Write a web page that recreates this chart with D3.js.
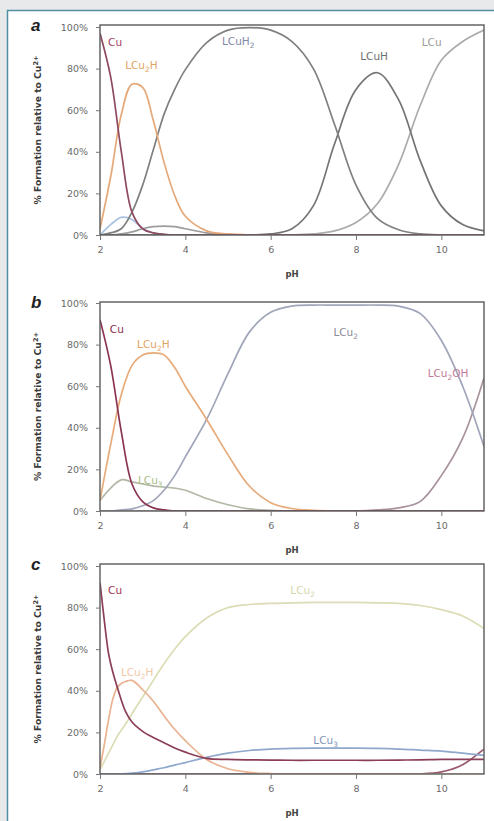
<!DOCTYPE html>
<html>
<head>
<meta charset="utf-8">
<script src="https://cdn.jsdelivr.net/npm/d3@7"></script>
<style>
  body { margin: 0; background: #e8e9eb; }
  svg { display: block; }
</style>
</head>
<body>
<div id="chart"></div>
<script>
var chartWidth = 494;
var chartHeight = 821;

// pH grids
var phAB = [2, 2.25, 2.5, 2.75, 3, 3.25, 3.5, 3.75, 4, 4.5, 5, 5.5, 6, 6.5, 7, 7.5, 8, 8.5, 9, 9.5, 10, 10.5, 11];
var phC = [2, 2.1, 2.2, 2.3, 2.4, 2.5, 2.6, 2.75, 3, 3.25, 3.5, 3.75, 4, 4.5, 5, 5.5, 6, 6.5, 7, 7.5, 8, 8.5, 9, 9.5, 10, 10.5, 11];

var xTicks = [2, 4, 6, 8, 10];
var yTicks = [0, 20, 40, 60, 80, 100];

// Panel a (% formation)
var aCu     = [97, 76, 40, 11, 3, 1, 0.3, 0, 0, 0, 0, 0, 0, 0, 0, 0, 0, 0, 0, 0, 0, 0, 0];
var aLCu2H  = [3, 28, 58, 72.5, 71, 55, 35, 19, 9, 2, 0.5, 0, 0, 0, 0, 0, 0, 0, 0, 0, 0, 0, 0];
var aLCuH2  = [0, 1, 3, 11, 24, 41, 58, 70, 79.5, 92.5, 98.5, 99.7, 98.5, 93, 80, 53, 24, 8, 2.5, 0.5, 0, 0, 0];
var aLCuH   = [0, 0, 0, 0, 0, 0, 0, 0, 0, 0, 0, 0.1, 0.5, 3, 14, 44, 70, 78, 65, 36, 14, 5, 2];
var aLCu    = [0, 0, 0, 0, 0, 0, 0, 0, 0, 0, 0, 0, 0, 0, 0.5, 2, 6, 15, 34, 62, 84, 93, 98.5];
var aMinor1 = [0, 5, 8.5, 7.5, 3, 1, 0.3, 0, 0, 0, 0, 0, 0, 0, 0, 0, 0, 0, 0, 0, 0, 0, 0];
var aMinor2 = [0, 0, 0.5, 1.5, 3, 4, 4.3, 4, 3, 1, 0.2, 0, 0, 0, 0, 0, 0, 0, 0, 0, 0, 0, 0];

// Panel b
var bCu     = [92, 70, 38, 13, 4.5, 1.5, 0.5, 0, 0, 0, 0, 0, 0, 0, 0, 0, 0, 0, 0, 0, 0, 0, 0];
var bLCu2H  = [5, 32, 56, 70, 75, 76, 75, 69, 60, 44, 27, 12, 4, 1.2, 0.3, 0, 0, 0, 0, 0, 0, 0, 0];
var bLCu2   = [0, 0, 0.5, 1, 2.5, 5, 10, 17, 26, 44, 66, 86, 95.5, 98.5, 99, 99, 99, 99, 98.5, 95, 82, 60, 31];
var bLCu2OH = [0, 0, 0, 0, 0, 0, 0, 0, 0, 0, 0, 0, 0, 0, 0, 0, 0, 0.5, 1.5, 4.5, 17, 35, 64];
var bLCu3   = [5, 11, 15, 14, 13, 12, 11.5, 11, 10, 6, 3, 1, 0.3, 0, 0, 0, 0, 0, 0, 0, 0, 0, 0];

// Panel c
var cCu     = [92, 74, 58, 49, 42, 35.5, 30, 25, 20.5, 17.5, 15, 12.5, 10.5, 7.5, 7, 6.8, 6.7, 6.6, 6.6, 6.6, 6.6, 6.6, 6.7, 6.8, 7, 7, 7];
var cLCu2H  = [3, 14, 26, 36, 41.5, 43.5, 44.5, 45, 40.5, 35, 28, 21.5, 16, 7, 2.5, 0.8, 0.2, 0, 0, 0, 0, 0, 0, 0, 0, 0, 0];
var cLCu2   = [2, 6, 10, 14, 18, 21, 24, 29, 37, 45, 53, 60, 66, 75, 80, 81.5, 82, 82.3, 82.5, 82.5, 82.5, 82.3, 82, 81, 79, 76, 70];
var cLCu3   = [0, 0, 0, 0, 0, 0.1, 0.2, 0.4, 1, 2, 3, 4.3, 5.5, 8, 10, 11.3, 12, 12.3, 12.4, 12.4, 12.4, 12.3, 12, 11.5, 11, 10, 9];
var cLCu2OH = [0, 0, 0, 0, 0, 0, 0, 0, 0, 0, 0, 0, 0, 0, 0, 0, 0, 0, 0, 0, 0, 0, 0, 0, 1, 4.5, 12];

// Layout of the three panels
var plotLeft = 100;
var plotRight = 484;
var panels = [
  {
    letter: 'a', frameTop: 25, top: 27, bottom: 235, ph: phAB,
    series: [
      {v: aMinor2, color: '#9c9c9c'},
      {v: aMinor1, color: '#a9c2e2'},
      {v: aLCu, color: '#ababab'},
      {v: aLCuH, color: '#747474'},
      {v: aLCuH2, color: '#808080'},
      {v: aLCu2H, color: '#e5a878'},
      {v: aCu, color: '#8e4a60'}
    ],
    labels: [
      {t: 'Cu', ph: 2.19, p: 91, color: '#a3405f'},
      {t: 'LCu_2H', ph: 2.59, p: 80, color: '#e0a466'},
      {t: 'LCuH_2', ph: 4.86, p: 91.3, color: '#7f88a6'},
      {t: 'LCuH', ph: 8.1, p: 84, color: '#6f6f6f'},
      {t: 'LCu', ph: 9.54, p: 91, color: '#9c9c9c'}
    ]
  },
  {
    letter: 'b', frameTop: 302, top: 303, bottom: 511, ph: phAB,
    series: [
      {v: bLCu3, color: '#b3b8a6'},
      {v: bLCu2OH, color: '#a8929e'},
      {v: bLCu2, color: '#a0a5b9'},
      {v: bLCu2H, color: '#e7ab7a'},
      {v: bCu, color: '#8b3553'}
    ],
    labels: [
      {t: 'Cu', ph: 2.23, p: 85.6, color: '#8a2c48'},
      {t: 'LCu_2H', ph: 2.87, p: 78.4, color: '#e2a262'},
      {t: 'LCu_2', ph: 7.47, p: 84, color: '#8c8c98'},
      {t: 'LCu_3', ph: 2.89, p: 13, color: '#a9bd8a'},
      {t: 'LCu_2OH', ph: 9.68, p: 64.4, color: '#c07a98'}
    ]
  },
  {
    letter: 'c', frameTop: 564, top: 566, bottom: 774, ph: phC,
    series: [
      {v: cLCu2OH, color: '#9a5a72'},
      {v: cLCu3, color: '#8fa8cc'},
      {v: cLCu2, color: '#dcdcb6'},
      {v: cLCu2H, color: '#eab290'},
      {v: cCu, color: '#8c3e58'}
    ],
    labels: [
      {t: 'Cu', ph: 2.19, p: 86.5, color: '#a03352'},
      {t: 'LCu_2H', ph: 2.49, p: 47, color: '#f0c8a8'},
      {t: 'LCu_2', ph: 6.46, p: 86.5, color: '#d6d6ae'},
      {t: 'LCu_3', ph: 7.0, p: 14.4, color: '#8494b8'}
    ]
  }
];

// Create SVG Element
var svg = d3.select('#chart')
    .append('svg')
    .attr('width', chartWidth)
    .attr('height', chartHeight);

// White card with border
svg.append('rect')
    .attr('x', 7.5)
    .attr('y', 10.5)
    .attr('width', chartWidth)
    .attr('height', chartHeight)
    .attr('fill', '#ffffff')
    .attr('stroke', '#4f8ea3')
    .attr('stroke-width', 1.5);

var scaleX = d3.scaleLinear()
    .domain([2, 11])
    .range([plotLeft, plotRight]);

// label text with _n meaning subscript n
function addLabel(sel, txt) {
  var parts = txt.split(/_(\d)/);
  parts.forEach(function(part, i) {
    if (part === '') return;
    var ts = sel.append('tspan').text(part);
    if (i % 2 === 1) {
      ts.attr('font-size', '0.7em').attr('dy', 3);
    } else if (i > 0) {
      ts.attr('dy', -3);
    }
  });
}

panels.forEach(function(panel, pi) {
  var scaleY = d3.scaleLinear()
      .domain([0, 100])
      .range([panel.bottom, panel.top]);

  var g = svg.append('g');

  g.append('clipPath')
      .attr('id', 'clip' + pi)
      .append('rect')
      .attr('x', plotLeft)
      .attr('y', panel.frameTop)
      .attr('width', plotRight - plotLeft)
      .attr('height', panel.bottom - panel.frameTop);

  // Lines
  var line = d3.line()
      .x(function(d) { return scaleX(d[0]); })
      .y(function(d) { return scaleY(d[1]); })
      .curve(d3.curveCatmullRom.alpha(0.5));

  g.append('g')
      .attr('clip-path', 'url(#clip' + pi + ')')
      .selectAll('path')
      .data(panel.series)
      .enter()
      .append('path')
      .attr('d', function(s) {
        return line(panel.ph.map(function(p, i) { return [p, s.v[i]]; }));
      })
      .attr('fill', 'none')
      .attr('stroke', function(s) { return s.color; })
      .attr('stroke-width', 1.7);

  // Frame
  g.append('rect')
      .attr('x', plotLeft)
      .attr('y', panel.frameTop)
      .attr('width', plotRight - plotLeft)
      .attr('height', panel.bottom - panel.frameTop)
      .attr('fill', 'none')
      .attr('stroke', '#5a5a5a')
      .attr('stroke-width', 1.4);

  // Axes
  var xAxis = g.append('g')
      .attr('transform', 'translate(0,' + panel.bottom + ')')
      .call(d3.axisBottom(scaleX).tickValues(xTicks).tickSize(5).tickPadding(6));
  var yAxis = g.append('g')
      .attr('transform', 'translate(' + plotLeft + ',0)')
      .call(d3.axisLeft(scaleY).tickValues(yTicks).tickSize(4).tickPadding(8)
        .tickFormat(function(d) { return d + '%'; }));

  [xAxis, yAxis].forEach(function(ax) {
    ax.select('.domain').remove();
    ax.selectAll('line').attr('stroke', '#777');
    ax.selectAll('text')
        .attr('fill', '#6a6a6a')
        .attr('font-family', 'DejaVu Sans')
        .attr('font-size', 9.5);
  });

  // Axis titles
  g.append('text')
      .attr('x', (plotLeft + plotRight) / 2)
      .attr('y', panel.bottom + 42)
      .attr('text-anchor', 'middle')
      .attr('font-family', 'DejaVu Sans')
      .attr('font-weight', 'bold')
      .attr('font-size', 8.5)
      .attr('fill', '#444')
      .text('pH');

  var yt = g.append('text')
      .attr('transform', 'translate(41,' + (panel.frameTop + panel.bottom) / 2 + ') rotate(-90)')
      .attr('text-anchor', 'middle')
      .attr('font-family', 'DejaVu Sans')
      .attr('font-weight', 'bold')
      .attr('font-size', 9.2)
      .attr('fill', '#3a3a3a');
  yt.append('tspan').text('% Formation relative to Cu');
  yt.append('tspan').attr('dy', -3).attr('font-size', 6.5).text('2+');

  // Panel letter
  g.append('text')
      .attr('x', 31)
      .attr('y', panel.frameTop + 6)
      .attr('font-family', 'Liberation Sans')
      .attr('font-weight', 'bold')
      .attr('font-style', 'italic')
      .attr('font-size', 17)
      .attr('fill', '#222')
      .text(panel.letter);

  // Curve labels
  panel.labels.forEach(function(l) {
    var t = g.append('text')
        .attr('x', scaleX(l.ph))
        .attr('y', scaleY(l.p))
        .attr('font-family', 'DejaVu Sans')
        .attr('font-size', 10.5)
        .attr('fill', l.color);
    addLabel(t, l.t);
  });
});
</script>
</body>
</html>
